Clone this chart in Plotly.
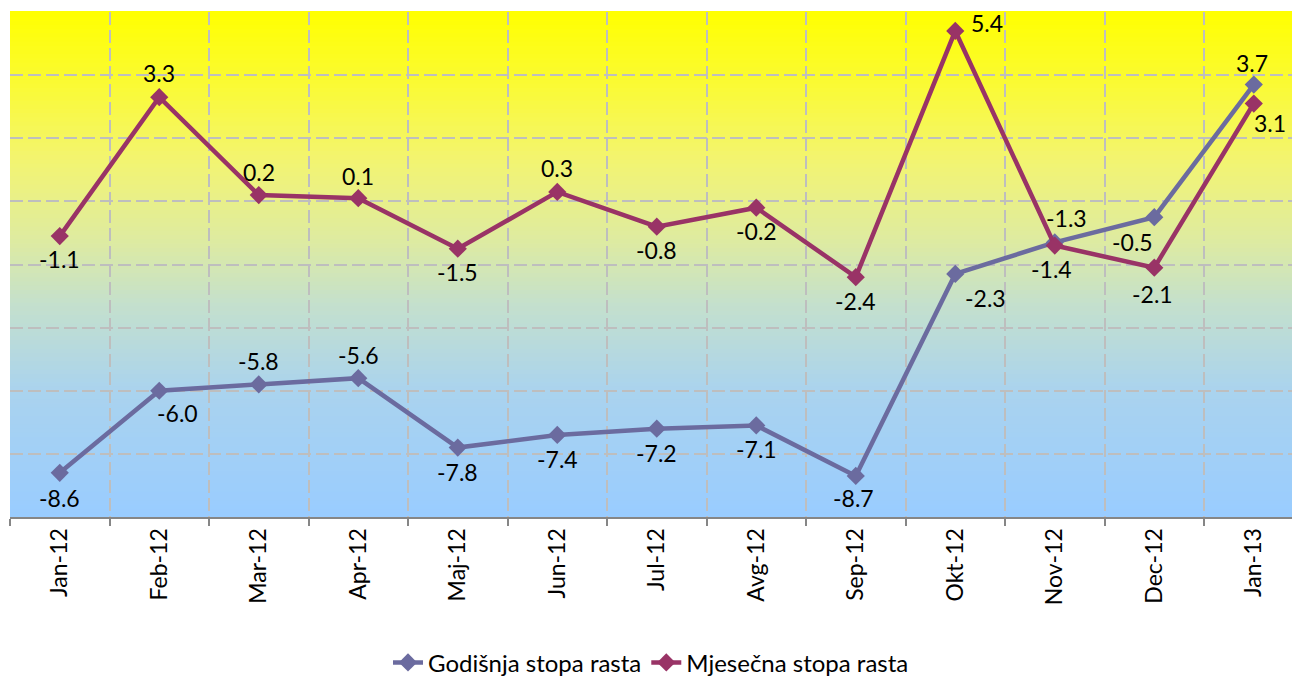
import plotly.graph_objects as go

categories = ["Jan-12", "Feb-12", "Mar-12", "Apr-12", "Maj-12", "Jun-12", "Jul-12",
              "Avg-12", "Sep-12", "Okt-12", "Nov-12", "Dec-12", "Jan-13"]
godisnja = [-8.6, -6.0, -5.8, -5.6, -7.8, -7.4, -7.2, -7.1, -8.7, -2.3, -1.3, -0.5, 3.7]
mjesecna = [-1.1, 3.3, 0.2, 0.1, -1.5, 0.3, -0.8, -0.2, -2.4, 5.4, -1.4, -2.1, 3.1]

# label offsets (px) for each point
god_off = [(0, -25), (18, -22), (0, 23), (0, 23), (0, -24), (0, -24), (0, -24), (0, -24),
           (-2, -22), (30, -24), (12, 24), (-22, -25), (-2, 22)]
mje_off = [(0, -23), (0, 24), (0, 23), (0, 22), (0, -23), (0, 24), (0, -23), (0, -23),
           (0, -24), (32, 8), (-3, -23), (-2, -26), (16, -19)]

FONT = "Lato"
C_GOD = "#6B6B9F"
C_MJE = "#993366"

fig = go.Figure()
fig.add_trace(go.Scatter(x=categories, y=godisnja, name="Godišnja stopa rasta",
                         mode="lines+markers", line=dict(color=C_GOD, width=4.5),
                         marker=dict(symbol="diamond", size=14, color=C_GOD)))
fig.add_trace(go.Scatter(x=categories, y=mjesecna, name="Mjesečna stopa rasta",
                         mode="lines+markers", line=dict(color=C_MJE, width=4.5),
                         marker=dict(symbol="diamond", size=14, color=C_MJE)))

annotations = []
for vals, offs in ((godisnja, god_off), (mjesecna, mje_off)):
    for c, v, (dx, dy) in zip(categories, vals, offs):
        annotations.append(dict(x=c, y=v, text=f"{v:.1f}", showarrow=False,
                                xshift=dx, yshift=dy,
                                font=dict(family=FONT, size=23, color="black")))

# vertical gradient background
stops = [(0.0, (153, 204, 255)), (0.25, (170, 211, 238)), (0.42, (196, 224, 205)),
         (0.55, (222, 235, 160)), (0.7, (242, 244, 115)), (0.85, (250, 250, 55)),
         (1.0, (255, 255, 0))]

def col(t):
    for (t0, c0), (t1, c1) in zip(stops[:-1], stops[1:]):
        if t0 <= t <= t1:
            f = (t - t0) / (t1 - t0)
            return "rgb(%d,%d,%d)" % tuple(round(a + (b - a) * f) for a, b in zip(c0, c1))
    return "rgb(255,255,0)"

N = 120
shapes = []
for i in range(N):
    shapes.append(dict(type="rect", xref="paper", yref="paper", x0=0, x1=1,
                       y0=i / N, y1=(i + 1) / N + 0.002, fillcolor=col((i + 0.5) / N),
                       line=dict(width=0), layer="below"))

fig.update_layout(
    width=1292, height=677,
    margin=dict(l=10, r=0, t=12, b=160, autoexpand=False),
    paper_bgcolor="white", plot_bgcolor="rgba(0,0,0,0)",
    shapes=shapes, annotations=annotations,
    font=dict(family=FONT, size=23, color="black"),
    showlegend=True,
    legend=dict(orientation="h", x=0.5, xanchor="center",
                yref="container", y=0.021, yanchor="middle",
                font=dict(family=FONT, size=24), tracegroupgap=0),
    xaxis=dict(type="category", range=[-0.5, 12.384], tickson="boundaries",
               ticks="outside", ticklen=7, tickcolor="#868686", tickwidth=2,
               showline=True, linecolor="#868686", linewidth=2,
               showgrid=True, gridcolor="#BEBEBE", gridwidth=2, griddash="13px,5px",
               tickangle=-90, tickfont=dict(family=FONT, size=23), zeroline=False),
    yaxis=dict(range=[-10, 6], dtick=2, tick0=-10, showticklabels=False,
               showgrid=True, gridcolor="#BEBEBE", gridwidth=2, griddash="13px,5px",
               zeroline=False, showline=False, ticks=""),
)

fig.write_html("out.html", config={"displayModeBar": False},
               post_script="document.body.style.margin='0';document.body.style.overflow='hidden';")
